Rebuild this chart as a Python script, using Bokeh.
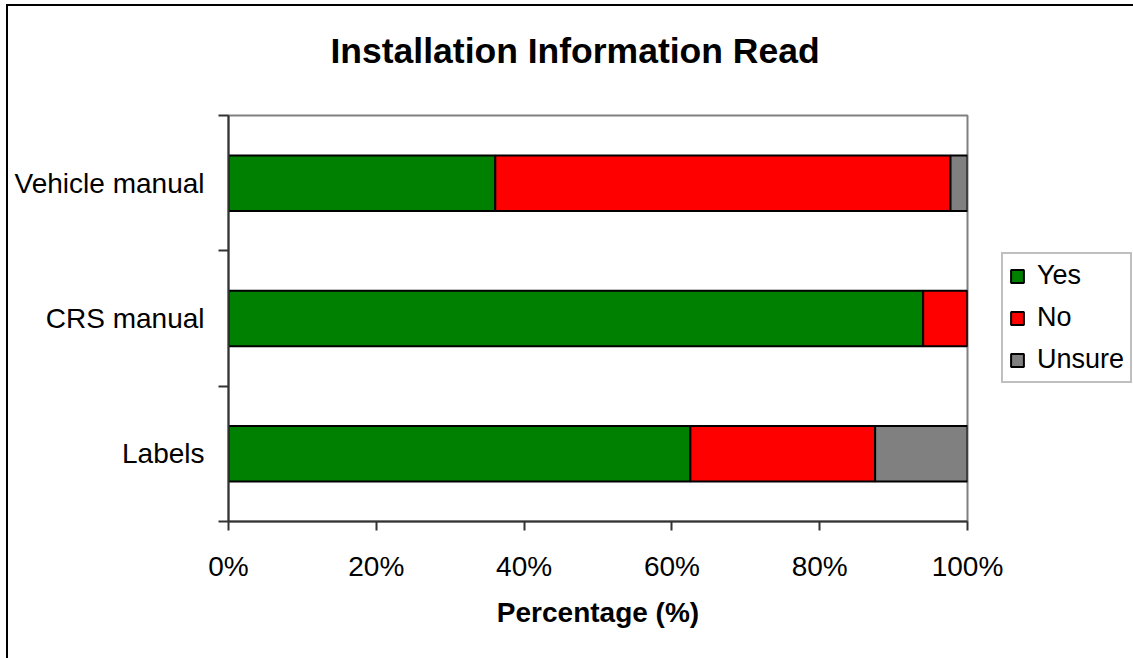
from bokeh.plotting import figure
from bokeh.models import Range1d, FixedTicker, Legend, LegendItem, ColumnDataSource, Title
from bokeh.embed import file_html
from bokeh.resources import INLINE

# ---- data ----
categories = ["Labels", "CRS manual", "Vehicle manual"]
yes = [62.5, 94.0, 36.1]
no = [25.0, 6.0, 61.6]
unsure = [12.5, 0.0, 2.3]
series = ["Yes", "No", "Unsure"]
colors = ["#008000", "#FF0000", "#808080"]
x_ticks = [0, 20, 40, 60, 80, 100]
x_tick_labels = ["0%", "20%", "40%", "60%", "80%", "100%"]
chart_title = "Installation Information Read"

FONT = "Liberation Sans"

centers = [i + 0.5 for i in range(len(categories))]
bounds = [float(i) for i in range(len(categories) + 1)]

source = ColumnDataSource(dict(y=centers, Yes=yes, No=no, Unsure=unsure))

p = figure(width=1125, height=652, frame_width=739, frame_height=406,
           x_range=Range1d(0, 100), y_range=Range1d(0, len(categories)),
           output_backend="svg", toolbar_location=None, title=None,
           min_border_left=220, min_border_right=166,
           min_border_top=109, min_border_bottom=137)
p.styles = {"margin-left": "6px", "margin-top": "4px",
            "border-left": "2px solid black", "border-top": "2px solid black"}

renderers = p.hbar_stack(series, y="y", height=0.41, source=source,
                         fill_color=colors, line_color="black", line_width=2)

p.xgrid.visible = False
p.ygrid.visible = False
p.outline_line_color = "#808080"
p.outline_line_width = 2
p.background_fill_color = "white"
p.border_fill_color = "white"

# title: a blank spacer next to the frame, then the real title above it
spacer = Title(text=" ", text_font=FONT, text_font_size="30px", standoff=10)
p.add_layout(spacer, "above")
main_title = Title(text=chart_title, text_font=FONT, text_font_size="35.5px",
                   text_font_style="bold", align="left", offset=102,
                   vertical_align="bottom", standoff=0, text_color="black")
p.add_layout(main_title, "above")

# x axis
xa = p.xaxis[0]
xa.ticker = FixedTicker(ticks=x_ticks, minor_ticks=[])
xa.major_label_overrides = {t: l for t, l in zip(x_ticks, x_tick_labels)}
xa.major_label_text_font = FONT
xa.major_label_text_font_size = "28px"
xa.major_label_text_color = "black"
xa.major_label_standoff = 20
xa.major_tick_out = 9
xa.major_tick_in = 0
xa.major_tick_line_color = "#333333"
xa.major_tick_line_width = 2
xa.axis_line_color = "#333333"
xa.axis_line_width = 2
xa.axis_label = "Percentage (%)"
xa.axis_label_text_font = FONT
xa.axis_label_text_font_size = "28px"
xa.axis_label_text_font_style = "bold"
xa.axis_label_text_color = "black"
xa.axis_label_standoff = 12

# y axis
ya = p.yaxis[0]
ya.ticker = FixedTicker(ticks=centers, minor_ticks=bounds)
ya.major_label_overrides = {c: n for c, n in zip(centers, categories)}
ya.major_label_text_font = FONT
ya.major_label_text_font_size = "28px"
ya.major_label_text_color = "black"
ya.major_label_standoff = 14
ya.major_tick_out = 0
ya.major_tick_in = 0
ya.minor_tick_out = 10
ya.minor_tick_in = 0
ya.minor_tick_line_color = "#333333"
ya.minor_tick_line_width = 2
ya.axis_line_color = "#333333"
ya.axis_line_width = 2

legend = Legend(items=[LegendItem(label=s, renderers=[r]) for s, r in zip(series, renderers)],
                location=(34, 138))
legend.label_text_font = FONT
legend.label_text_font_size = "27px"
legend.label_text_color = "black"
legend.glyph_width = 16
legend.glyph_height = 16
legend.label_standoff = 12
legend.spacing = 11
legend.padding = 6
legend.margin = 0
legend.border_line_color = "#808080"
legend.border_line_width = 2
legend.background_fill_alpha = 1
p.add_layout(legend, "right")

open("out.html", "w").write(file_html(p, INLINE))
